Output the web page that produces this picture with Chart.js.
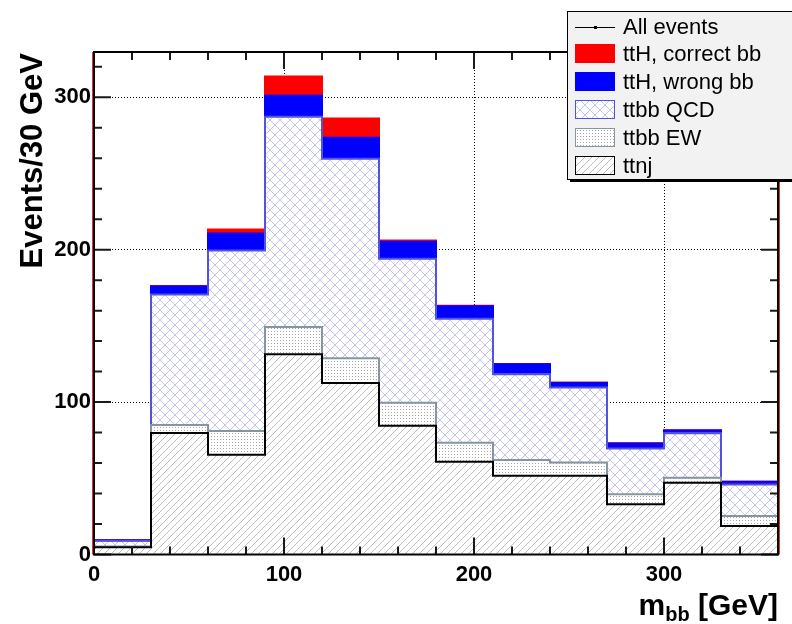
<!DOCTYPE html>
<html>
<head>
<meta charset="utf-8">
<script src="https://cdn.jsdelivr.net/npm/chart.js@4.4.1/dist/chart.umd.min.js"></script>
<style>
  html, body { margin: 0; padding: 0; background: #fff; }
  #wrap { width: 792px; height: 624px; }
</style>
</head>
<body>
<div id="wrap"><canvas id="mbb"></canvas></div>
<script>
// m_bb stack, 30 GeV bins from 0 to 360 (lower bin edges)
const binLow = [0, 30, 60, 90, 120, 150, 180, 210, 240, 270, 300, 330];
const binWidth = 30;

// per-sample contributions
const ttnj       = [4.8, 79.8, 65.4, 131.4, 112.6, 84.4, 60.9, 51.7, 51.7, 32.9, 47.1, 18.7];
const ttbbEW     = [0.4, 5.2, 15.7, 17.8, 16.1, 15.1, 12.4, 10.3, 8.7, 6.6, 3.3, 6.6];
const ttbbQCD    = [3.9, 85.6, 118.4, 138.0, 131.0, 94.5, 81.4, 56.3, 49.2, 30.1, 29.2, 20.7];
const ttHwrong   = [0.3, 5.3, 11.1, 13.8, 13.8, 11.2, 8.1, 6.5, 2.9, 3.3, 1.8, 1.7];
const ttHcorrect = [0.0, 0.2, 2.6, 12.6, 12.5, 0.8, 0.4, 0.2, 0.3, 0.1, 0.1, 0.1];

const xTicks = [0, 100, 200, 300];
const yTicks = [0, 100, 200, 300];
const X_MAX = 360;
const Y_MAX = 329.7;

const legendLabels = ["All events", "ttH, correct bb", "ttH, wrong bb", "ttbb QCD", "ttbb EW", "ttnj"];

// ── fill patterns (ROOT-ish hatches) ──

function makePattern(w, h, draw) {
  var c = document.createElement("canvas");
  c.width = w; c.height = h;
  var g = c.getContext("2d");
  g.fillStyle = "#fff";
  g.fillRect(0, 0, w, h);
  draw(g, w, h);
  return document.getElementById("mbb").getContext("2d").createPattern(c, "repeat");
}

function diag(g, w, h, up) {
  g.beginPath();
  for (var k = -1; k <= 1; k++) {
    if (up) { g.moveTo(k * w, h); g.lineTo(k * w + w, 0); }
    else { g.moveTo(k * w, 0); g.lineTo(k * w + w, h); }
  }
  g.stroke();
}

const patNj = makePattern(7, 7, function (g, w, h) {
  g.strokeStyle = "#b4b4b4"; g.lineWidth = 0.9; diag(g, w, h, true);
});
const patEW = makePattern(3, 3, function (g) {
  g.fillStyle = "#a8a8a8"; g.fillRect(1, 1, 1, 1);
});
const patQCD = makePattern(10, 10, function (g, w, h) {
  g.strokeStyle = "#c4c4f2"; g.lineWidth = 1; diag(g, w, h, true); diag(g, w, h, false);
});

const samples = [
  { label: "ttnj", values: ttnj, fill: patNj, line: "#000000" },
  { label: "ttbb EW", values: ttbbEW, fill: patEW, line: "#8596a0" },
  { label: "ttbb QCD", values: ttbbQCD, fill: patQCD, line: "#5252e0" },
  { label: "ttH, wrong bb", values: ttHwrong, fill: "#0000ff", line: "#0000ff" },
  { label: "ttH, correct bb", values: ttHcorrect, fill: "#ff0000", line: "#ff0000" },
];

// ── datasets: stacked bars for the fills, stepped lines for the outlines ──

var datasets = [];
var running = binLow.map(function () { return 0; });

samples.forEach(function (s, i) {
  datasets.push({
    type: "bar",
    label: s.label,
    stack: "h",
    order: 10,
    data: binLow.map(function (x, j) { return { x: x + binWidth / 2, y: s.values[j] }; }),
    backgroundColor: s.fill,
    borderWidth: 0,
    barPercentage: 1,
    categoryPercentage: 1,
  });
  running = running.map(function (r, j) { return r + s.values[j]; });
  var pts = binLow.map(function (x, j) { return { x: x, y: running[j] }; });
  pts.push({ x: X_MAX, y: running[running.length - 1] });
  datasets.push({
    type: "line",
    label: s.label + " outline",
    stack: "o" + i,
    order: i,
    data: pts,
    stepped: true,
    borderColor: s.line,
    borderWidth: 2,
    pointRadius: 0,
    fill: false,
  });
});

// ── frame, minor ticks, titles, legend ──

const frame = {
  id: "frame",
  afterDatasetsDraw: function (chart) {
    var ctx = chart.ctx, a = chart.chartArea;
    var xs = chart.scales.x, ys = chart.scales.y;
    ctx.save();
    // red edges peeking out next to the frame
    ctx.strokeStyle = "#e03030"; ctx.lineWidth = 1;
    ctx.beginPath();
    ctx.moveTo(a.left - 1.5, a.top); ctx.lineTo(a.left - 1.5, a.bottom);
    ctx.moveTo(a.right + 1.5, a.top); ctx.lineTo(a.right + 1.5, a.bottom);
    ctx.stroke();

    ctx.strokeStyle = "#1a1a1a"; ctx.lineWidth = 2;
    ctx.beginPath();
    var v, p, len;
    for (v = 0; v <= X_MAX; v += 20) {
      p = xs.getPixelForValue(v);
      len = v % 100 === 0 ? 17 : 8;
      ctx.moveTo(p, a.bottom); ctx.lineTo(p, a.bottom - len);
      ctx.moveTo(p, a.top); ctx.lineTo(p, a.top + len);
    }
    for (v = 0; v <= Y_MAX; v += 20) {
      p = ys.getPixelForValue(v);
      len = v % 100 === 0 ? 17 : 8;
      ctx.moveTo(a.left, p); ctx.lineTo(a.left + len, p);
      ctx.moveTo(a.right, p); ctx.lineTo(a.right - len, p);
    }
    ctx.stroke();

    ctx.strokeStyle = "#000"; ctx.lineWidth = 2;
    ctx.strokeRect(a.left, a.top, a.right - a.left, a.bottom - a.top);
    ctx.restore();
  },
  afterDraw: function (chart) {
    var ctx = chart.ctx, a = chart.chartArea;
    var font = "Liberation Sans, Arial, Helvetica, sans-serif";
    ctx.save();
    ctx.fillStyle = "#000";

    // y title
    ctx.save();
    ctx.translate(42, a.top + 1);
    ctx.rotate(-Math.PI / 2);
    ctx.font = "bold 31px " + font;
    ctx.textAlign = "right";
    ctx.textBaseline = "alphabetic";
    ctx.fillText("Events/30 GeV", 0, 0);
    ctx.restore();

    // x title with subscript
    var big = "bold 30px " + font, small = "bold 20px " + font;
    ctx.textBaseline = "alphabetic";
    ctx.textAlign = "left";
    ctx.font = big;
    var wM = ctx.measureText("m").width, wG = ctx.measureText(" [GeV]").width;
    ctx.font = small;
    var wB = ctx.measureText("bb").width;
    var x0 = a.right - (wM + wB + wG);
    ctx.font = big; ctx.fillText("m", x0, 615);
    ctx.font = small; ctx.fillText("bb", x0 + wM, 621);
    ctx.font = big; ctx.fillText(" [GeV]", x0 + wM + wB, 615);

    // legend box
    var lx = 567, ly = 11, lw = 240, lh = 168;
    ctx.fillStyle = "#000";
    ctx.fillRect(lx + 3, ly + lh, lw, 3);
    ctx.fillStyle = "#f2f2f2";
    ctx.fillRect(lx, ly, lw, lh);
    ctx.strokeStyle = "#000"; ctx.lineWidth = 1;
    ctx.strokeRect(lx + 0.5, ly + 0.5, lw, lh);

    var rows = [27, 53.5, 81.5, 109.5, 137.5, 165.5];
    var swatch = [null, samples[4], samples[3], samples[2], samples[1], samples[0]];
    ctx.font = "22px " + font;
    ctx.textBaseline = "middle";
    rows.forEach(function (ry, i) {
      var s = swatch[i];
      if (!s) {
        ctx.strokeStyle = "#000"; ctx.lineWidth = 1;
        ctx.beginPath(); ctx.moveTo(575, ry + 0.5); ctx.lineTo(615, ry + 0.5); ctx.stroke();
        ctx.fillStyle = "#000"; ctx.fillRect(594, ry - 1, 3, 3);
      } else {
        ctx.fillStyle = s.fill;
        ctx.fillRect(575, ry - 9.5, 40, 19);
        ctx.strokeStyle = s.line; ctx.lineWidth = 1;
        ctx.strokeRect(575.5, ry - 9, 39, 18);
      }
      ctx.fillStyle = "#000";
      ctx.fillText(legendLabels[i], 623, ry + 1);
    });
    ctx.restore();
  },
};

const tickFont = { family: "Liberation Sans, Arial, Helvetica, sans-serif", size: 22, weight: "bold" };

new Chart(document.getElementById("mbb"), {
  type: "bar",
  data: { datasets: datasets },
  options: {
    responsive: true,
    maintainAspectRatio: false,
    animation: false,
    events: [],
    layout: { padding: { left: 0, right: 14, top: 52, bottom: 0 } },
    plugins: { legend: { display: false }, tooltip: { enabled: false } },
    scales: {
      x: {
        type: "linear",
        stacked: true,
        offset: false,
        min: 0,
        max: X_MAX,
        afterBuildTicks: function (s) { s.ticks = xTicks.map(function (v) { return { value: v }; }); },
        afterFit: function (s) { s.height = 69.5; },
        ticks: { font: tickFont, color: "#000", padding: 7, maxRotation: 0 },
        grid: { color: "#000", lineWidth: 1, drawTicks: false, offset: false },
        border: { display: false, dash: [1, 2] },
      },
      y: {
        stacked: true,
        min: 0,
        max: Y_MAX,
        afterBuildTicks: function (s) { s.ticks = yTicks.map(function (v) { return { value: v }; }); },
        afterFit: function (s) { s.width = 94; },
        ticks: { font: tickFont, color: "#000", padding: 3 },
        grid: { color: "#000", lineWidth: 1, drawTicks: false },
        border: { display: false, dash: [1, 2] },
      },
    },
  },
  plugins: [frame],
});
</script>
</body>
</html>
